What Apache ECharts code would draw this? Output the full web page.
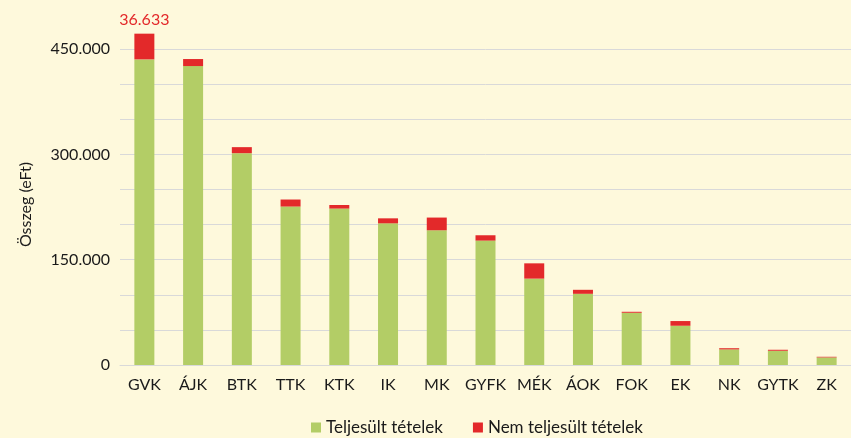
<!DOCTYPE html>
<html>
<head>
<meta charset="utf-8">
<script src="https://cdn.jsdelivr.net/npm/echarts@6/dist/echarts.min.js"></script>
<style>
  html, body { margin: 0; padding: 0; background: #fef9dc; }
  #chart { width: 851px; height: 438px; }
</style>
</head>
<body>
<div id="chart"></div>
<script>
// karok
const categories = ["GVK", "ÁJK", "BTK", "TTK", "KTK", "IK", "MK", "GYFK", "MÉK", "ÁOK", "FOK", "EK", "NK", "GYTK", "ZK"];

// eFt
const teljesult = [435300, 425800, 301700, 225700, 222800, 201800, 191900, 177200, 123000, 101400, 74400, 55900, 22200, 20300, 10800];
const nemTeljesult = [36633, 10000, 8600, 10000, 5100, 7100, 18100, 7600, 21800, 5700, 1400, 6700, 1700, 1400, 900];

const FONT = "Lato";
const GREEN = "#b3cd66";
const RED = "#e3292a";

const myChart = echarts.init(document.getElementById("chart"));

// pont ezres elvalaszto
const fmt = (v) => String(v).replace(/\B(?=(\d{3})+(?!\d))/g, ".");

const option = {
  backgroundColor: "#fef9dc",
  animation: false,
  textStyle: { fontFamily: FONT },
  grid: {
    left: 120,
    right: -8,
    top: 28,
    bottom: 73,
  },
  legend: {
    left: 306,
    top: 414,
    icon: "rect",
    itemWidth: 10,
    itemHeight: 10,
    itemGap: 30,
    textStyle: { fontFamily: FONT, fontSize: 17, color: "#1a1a1a" },
    data: ["Teljesült tételek", "Nem teljesült tételek"],
  },
  xAxis: {
    type: "category",
    data: categories,
    axisLine: { lineStyle: { color: "#d9d9d9", width: 1 } },
    axisTick: { show: false },
    axisLabel: {
      fontFamily: FONT,
      fontSize: 16,
      color: "#1a1a1a",
      margin: 12,
      interval: 0,
    },
  },
  yAxis: {
    type: "value",
    min: 0,
    max: 480000,
    interval: 50000,
    name: "Összeg (eFt)",
    nameLocation: "middle",
    nameGap: 86,
    nameRotate: 90,
    nameTextStyle: {
      fontFamily: FONT,
      fontSize: 16,
      color: "#1a1a1a",
      padding: [0, 16, 0, 0],
    },
    axisLine: { show: false },
    axisTick: { show: false },
    splitLine: {
      showMaxLine: false,
      lineStyle: { color: "#d9d9d9", width: 1 },
    },
    axisLabel: {
      fontFamily: FONT,
      fontSize: 16,
      color: "#1a1a1a",
      margin: 10,
      showMaxLabel: false,
      formatter: (v) => (v % 150000 === 0 ? fmt(v) : ""),
    },
  },
  series: [
    {
      name: "Teljesült tételek",
      type: "bar",
      stack: "osszeg",
      barWidth: 20,
      data: teljesult,
      itemStyle: { color: GREEN },
    },
    {
      name: "Nem teljesült tételek",
      type: "bar",
      stack: "osszeg",
      barWidth: 20,
      data: nemTeljesult.map((v, i) =>
        i === 0
          ? {
              value: v,
              label: {
                show: true,
                position: "top",
                distance: 6,
                formatter: () => fmt(v),
                fontFamily: FONT,
                fontSize: 16,
                color: RED,
              },
            }
          : v
      ),
      itemStyle: { color: RED },
    },
  ],
};

myChart.setOption(option);
</script>
</body>
</html>
